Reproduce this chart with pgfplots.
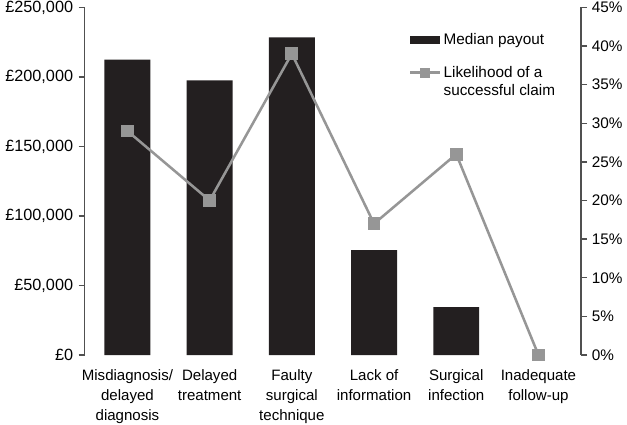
\documentclass[border=0pt]{standalone}
\usepackage{pgfplots}
\pgfplotsset{compat=1.18}
\usepackage{fontspec}
\setmainfont{Liberation Sans}
\definecolor{barblack}{RGB}{35,31,32}
\definecolor{linegray}{RGB}{150,150,150}
\definecolor{axgray}{RGB}{80,80,80}
\begin{document}
\begin{tikzpicture}
\pgfplotsset{
  every axis/.append style={
    scale only axis, width=372.75pt, height=261pt,
    xmin=-0.52, xmax=5.52,
    font=\fontsize{11.3}{15}\selectfont,
    tick align=outside, major tick length=4.5pt,
    every tick/.style={axgray, line width=1pt},
    axis line style={axgray, line width=1.1pt},
    scaled y ticks=false,
    every tick label/.append style={inner ysep=0.5pt},
  }
}
\begin{axis}[
  ymin=0, ymax=250000,
  axis y line*=left, axis x line*=bottom,
  x axis line style={draw=none},
  xtick={0,1,2,3,4,5},
  major x tick style={draw=none},
  xticklabels={{Misdiagnosis/\\delayed\\diagnosis},{Delayed\\treatment},{Faulty\\surgical\\technique},{Lack of\\information},{Surgical\\infection},{Inadequate\\follow-up}},
  xticklabel style={align=center, yshift=-6pt},
  ytick={0,50000,100000,150000,200000,250000},
  yticklabels={£0,{£50,000},{£100,000},{£150,000},{£200,000},{£250,000}},
  yticklabel style={font=\fontsize{12.2}{14}\selectfont, inner xsep=4pt},
  ybar, bar width=34.5pt,
]
\addplot[fill=barblack, draw=none] coordinates {(0,212500) (1,197500) (2,228500) (3,75500) (4,34500)};
\end{axis}
\begin{axis}[
  ymin=0, ymax=45,
  axis y line*=right, axis x line=none,
  ytick={0,5,10,15,20,25,30,35,40,45},
  yticklabels={0\%,5\%,10\%,15\%,20\%,25\%,30\%,35\%,40\%,45\%},
  yticklabel style={font=\fontsize{11.5}{14}\selectfont},
  clip=false,
  legend style={at={(0.645,0.942)}, anchor=north west, draw=none, fill=none,
    nodes={align=left, inner sep=2pt}, row sep=11pt,
    font=\fontsize{11.5}{13.5}\selectfont},
  legend cell align=left,
]
\addlegendimage{legend image code/.code={\fill[barblack] (0cm,-0.1cm) rectangle (0.77cm,0.1cm);}}
\addlegendentry{Median payout}
\addplot[linegray, line width=1.9pt, mark=square*, mark size=4.4pt,
  mark options={fill=linegray, draw=linegray, line width=0pt},
  legend image code/.code={\draw[linegray, line width=1.9pt] (0cm,6.75pt) -- (0.77cm,6.75pt);
    \fill[linegray] (0.285cm,6.75pt-0.1cm) rectangle (0.485cm,6.75pt+0.1cm);}]
  coordinates {(0,29) (1,20) (2,39) (3,17) (4,26) (5,0)};
\addlegendentry{Likelihood of a\\successful claim}
\end{axis}
\end{tikzpicture}
\end{document}
